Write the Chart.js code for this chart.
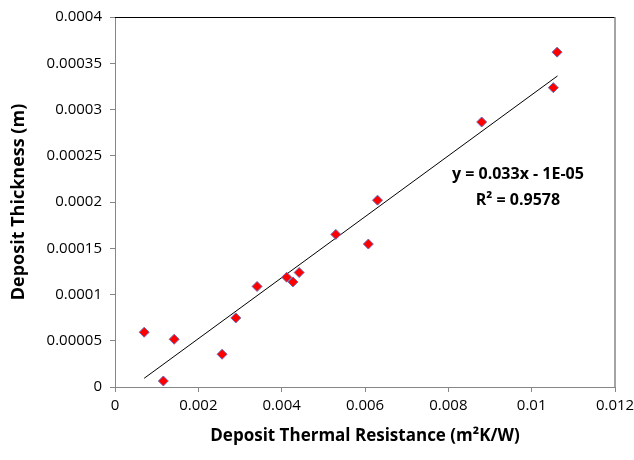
<!DOCTYPE html>
<html>
<head>
<meta charset="utf-8">
<script src="https://cdn.jsdelivr.net/npm/chart.js@4.4.0/dist/chart.umd.min.js"></script>
<style>
  html, body { margin: 0; padding: 0; background: #fff; }
  #wrap { width: 634px; height: 460px; }
</style>
</head>
<body>
<div id="wrap"><canvas id="chart"></canvas></div>
<script>
// measured points: thermal resistance (m2K/W) vs thickness (m)
const resistance = [0.00070, 0.00116, 0.00142, 0.00257, 0.00290, 0.00341, 0.00412, 0.00427, 0.00442,
                    0.00530, 0.00608, 0.00630, 0.00880, 0.01052, 0.01061];
const thickness = [0.0000592, 0.0000065, 0.0000516, 0.0000354, 0.0000747, 0.0001087, 0.0001187, 0.0001136, 0.0001238,
                   0.0001650, 0.0001545, 0.0002020, 0.0002865, 0.0003236, 0.0003620];

// linear trendline ends as drawn
const trendX = [0.00070, 0.01062];
const trendY = [0.0000094, 0.0003363];

const xTickLabels = ['0', '0.002', '0.004', '0.006', '0.008', '0.01', '0.012'];
const yTickLabels = ['0', '0.00005', '0.0001', '0.00015', '0.0002', '0.00025', '0.0003', '0.00035', '0.0004'];
const equationLines = ['y = 0.033x - 1E-05', 'R\u00B2 = 0.9578'];

const axisGrey = '#868686';
const font = 'Open Sans';

// top/right frame of the plot and the trendline label
const framePlugin = {
    id: 'frame',
    afterDraw(chart) {
        const ctx = chart.ctx;
        const a = chart.chartArea;
        ctx.save();
        ctx.lineWidth = 1;
        ctx.strokeStyle = '#000';
        ctx.beginPath();
        ctx.moveTo(a.left, a.top + 0.5);
        ctx.lineTo(a.right, a.top + 0.5);
        ctx.stroke();
        ctx.strokeStyle = axisGrey;
        ctx.lineWidth = 1.5;
        ctx.beginPath();
        ctx.moveTo(a.right, a.top);
        ctx.lineTo(a.right, a.bottom);
        ctx.stroke();

        const xs = chart.scales.x, ys = chart.scales.y;
        ctx.fillStyle = '#000';
        ctx.font = 'bold 16px "' + font + '"';
        ctx.textAlign = 'center';
        ctx.textBaseline = 'middle';
        ctx.fillText(equationLines[0], xs.getPixelForValue(0.00967), ys.getPixelForValue(0.000230));
        ctx.fillText(equationLines[1], xs.getPixelForValue(0.00967), ys.getPixelForValue(0.000202));
        ctx.restore();
    }
};

new Chart(document.getElementById('chart'), {
    type: 'scatter',
    data: {
        datasets: [
            {
                label: 'Data',
                data: resistance.map((x, i) => ({ x: x, y: thickness[i] })),
                pointStyle: 'rectRot',
                pointRadius: 5,
                pointHoverRadius: 5,
                backgroundColor: '#ff0000',
                borderColor: '#6a6ab8',
                borderWidth: 1
            },
            {
                label: 'Linear',
                type: 'line',
                data: trendX.map((x, i) => ({ x: x, y: trendY[i] })),
                borderColor: '#000',
                borderWidth: 1,
                pointRadius: 0,
                fill: false
            }
        ]
    },
    options: {
        responsive: true,
        maintainAspectRatio: false,
        animation: false,
        layout: { padding: { left: 4, right: 19, top: 17, bottom: 10 } },
        plugins: {
            legend: { display: false },
            tooltip: { enabled: false }
        },
        scales: {
            x: {
                type: 'linear',
                min: 0,
                max: 0.012,
                ticks: {
                    stepSize: 0.002,
                    color: '#000',
                    font: { family: font, size: 15 },
                    padding: 5,
                    maxRotation: 0,
                    callback: (v, i) => xTickLabels[i]
                },
                grid: { drawOnChartArea: false, color: axisGrey, tickLength: 5 },
                border: { color: axisGrey, width: 1 },
                title: {
                    display: true,
                    text: 'Deposit Thermal Resistance (m\u00B2K/W)',
                    color: '#000',
                    font: { family: font, size: 17, weight: 'bold' },
                    padding: { top: 7 }
                },
                afterFit: s => { s.height = 63; s.paddingLeft = 0; s.paddingRight = 0; }
            },
            y: {
                type: 'linear',
                min: 0,
                max: 0.0004,
                ticks: {
                    stepSize: 0.00005,
                    color: '#000',
                    font: { family: font, size: 15 },
                    padding: 8,
                    callback: (v, i) => yTickLabels[i]
                },
                grid: { drawOnChartArea: false, color: axisGrey, tickLength: 5 },
                border: { color: axisGrey, width: 1 },
                title: {
                    display: true,
                    text: 'Deposit Thickness (m)',
                    color: '#000',
                    font: { family: font, size: 18, weight: 'bold' },
                    padding: { bottom: 8 }
                },
                afterFit: s => { s.width = 111; s.paddingTop = 0; s.paddingBottom = 0; }
            }
        }
    },
    plugins: [framePlugin]
});
</script>
</body>
</html>
